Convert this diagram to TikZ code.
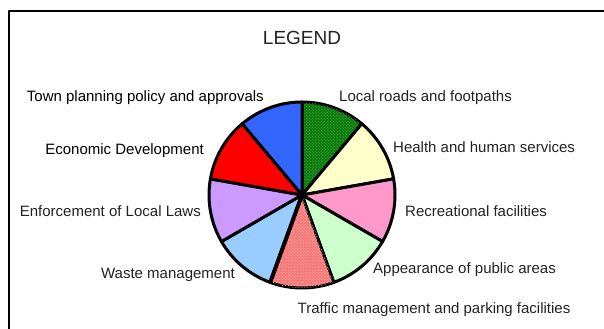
\documentclass[tikz,border=0pt]{standalone}
\usepackage{fontspec}
\setmainfont{Liberation Sans}
\usepackage{tikz}
\usetikzlibrary{arrows,shapes,patterns}

\definecolor{roadgreen}{RGB}{0,128,0}
\definecolor{healthyellow}{RGB}{255,255,204}
\definecolor{recpink}{RGB}{255,153,204}
\definecolor{lookgreen}{RGB}{204,255,204}
\definecolor{trafficred}{RGB}{255,110,110}
\definecolor{wasteblue}{RGB}{153,204,255}
\definecolor{lawlilac}{RGB}{204,153,255}
\definecolor{econred}{RGB}{255,0,0}
\definecolor{planblue}{RGB}{51,102,255}
\definecolor{lbltext}{RGB}{34,34,34}

\tikzset{
  lbl/.style={inner sep=0pt,text=lbltext,font=\fontsize{15bp}{18bp}\selectfont},
  slice/.style={draw=black,line width=3bp,line join=round}
}

\begin{document}
\begin{tikzpicture}[line join=bevel]
\useasboundingbox (0bp,0bp) rectangle (604bp,329bp);
%%
\draw [line width=2bp] (9bp,0bp) -- (9bp,318bp) -- (604bp,318bp);
\node (legend) at (302bp,284bp) [lbl,anchor=base,font=\fontsize{19bp}{22bp}\selectfont] {LEGEND};
%
\coordinate (O) at (302bp,134bp);
\draw [slice,fill=roadgreen] (O) -- ++(90:93bp) arc (90:50:93bp) -- cycle;
\fill [pattern=crosshatch dots,pattern color=black!45] (O) -- ++(90:93bp) arc (90:50:93bp) -- cycle;
\draw [slice,fill=healthyellow] (O) -- ++(50:93bp) arc (50:10:93bp) -- cycle;
\draw [slice,fill=recpink] (O) -- ++(10:93bp) arc (10:-30:93bp) -- cycle;
\draw [slice,fill=lookgreen] (O) -- ++(-30:93bp) arc (-30:-70:93bp) -- cycle;
\draw [slice,fill=trafficred] (O) -- ++(-70:93bp) arc (-70:-110:93bp) -- cycle;
\fill [pattern=crosshatch dots,pattern color=white!85!trafficred] (O) -- ++(-70:93bp) arc (-70:-110:93bp) -- cycle;
\draw [slice,fill=wasteblue] (O) -- ++(-110:93bp) arc (-110:-150:93bp) -- cycle;
\draw [slice,fill=lawlilac] (O) -- ++(-150:93bp) arc (-150:-190:93bp) -- cycle;
\draw [slice,fill=econred] (O) -- ++(170:93bp) arc (170:130:93bp) -- cycle;
\draw [slice,fill=planblue] (O) -- ++(130:93bp) arc (130:90:93bp) -- cycle;
\draw [slice,line width=4bp] (O) -- ++(-110:93bp);
%
\node (townplan) at (264bp,227bp) [lbl,anchor=base east,text=black] {Town planning policy and approvals};
\node (roads) at (339bp,227bp) [lbl,anchor=base west] {Local roads and footpaths};
\node (econ) at (204bp,174bp) [lbl,anchor=base east,text=black] {Economic Development};
\node (health) at (393bp,176bp) [lbl,anchor=base west] {Health and human services};
\node (laws) at (201bp,112bp) [lbl,anchor=base east] {Enforcement of Local Laws};
\node (recreation) at (405bp,112bp) [lbl,anchor=base west] {Recreational facilities};
\node (waste) at (235bp,50.5bp) [lbl,anchor=base east] {Waste management};
\node (appearance) at (373bp,55.5bp) [lbl,anchor=base west] {Appearance of public areas};
\node (traffic) at (297.5bp,15.5bp) [lbl,anchor=base west] {Traffic management and parking facilities};
%
\end{tikzpicture}
\end{document}
